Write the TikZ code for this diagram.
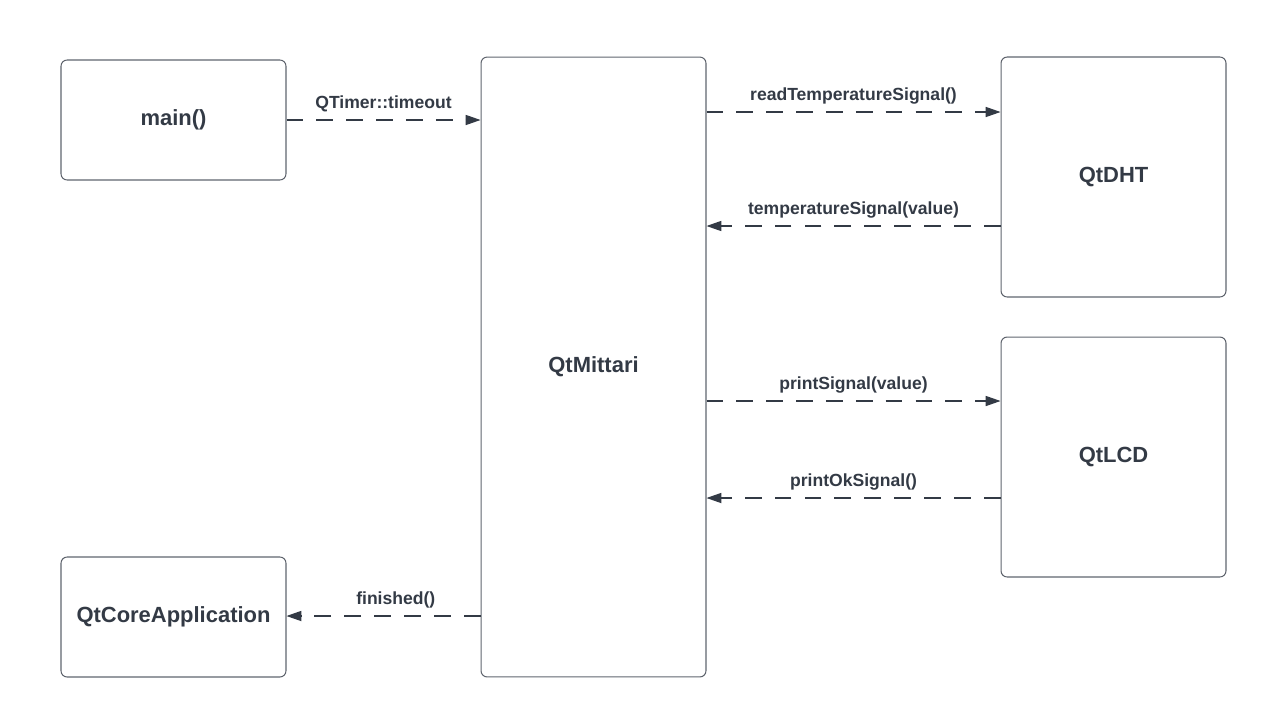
\documentclass[tikz,border=0pt]{standalone}
\usepackage{fontspec}
\setmainfont{Liberation Sans}
\usetikzlibrary{arrows.meta}
\definecolor{inkgray}{HTML}{333A45}
\definecolor{edgegray}{HTML}{60656E}

\begin{document}
\begin{tikzpicture}[
    x=0.02cm, y=-0.02cm,
    >={Triangle[length=8.5pt,width=5.8pt]},
    font=\bfseries,
    line cap=butt,
    block/.style={draw=edgegray, line width=0.6pt, rounded corners=3.5pt,
        minimum width=4.5cm, text=inkgray, font=\fontsize{12.5}{15}\selectfont\bfseries},
    signal/.style={->, draw=inkgray, line width=0.6pt, dash pattern=on 9.5pt off 7.5pt},
    siglabel/.style={midway, anchor=base, yshift=6.8pt, text=inkgray,
        font=\fontsize{10}{12}\selectfont\bfseries}
]

% --- Canvas ---
\useasboundingbox (0,0) rectangle (1266,717);

% --- Blocks ---
\node[block, minimum height=2.4cm]  (main)   at (173.5,120) {main()};
\node[block, minimum height=2.4cm]  (core)   at (173.5,617) {QtCoreApplication};
\node[block, minimum height=12.4cm] (mittari) at (593.5,367) {QtMittari};
\node[block, minimum height=4.8cm]  (dht)    at (1113.5,177) {QtDHT};
\node[block, minimum height=4.8cm]  (lcd)    at (1113.5,457) {QtLCD};

% --- Signals ---
\draw[signal] (main.east) -- (main.east -| mittari.west)
    node[siglabel] {QTimer::timeout};

\draw[signal] (mittari.east |- 0,112) -- (dht.west |- 0,112)
    node[siglabel] {readTemperatureSignal()};
\draw[signal] (dht.west |- 0,226) -- (mittari.east |- 0,226)
    node[siglabel] {temperatureSignal(value)};

\draw[signal] (mittari.east |- 0,401) -- (lcd.west |- 0,401)
    node[siglabel] {printSignal(value)};
\draw[signal] (lcd.west |- 0,498) -- (mittari.east |- 0,498)
    node[siglabel] {printOkSignal()};

\draw[signal] (mittari.west |- 0,616) -- (core.east |- 0,616)
    node[siglabel, xshift=7pt] {finished()};

\end{tikzpicture}
\end{document}
